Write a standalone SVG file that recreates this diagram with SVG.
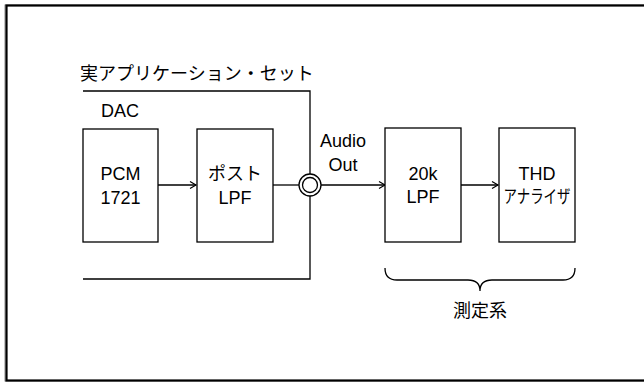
<svg xmlns="http://www.w3.org/2000/svg" width="644" height="383" viewBox="0 0 644 383">
<defs>
<style>
.t{font-family:"Liberation Sans","Noto Sans CJK JP",Arial,sans-serif;font-size:18px;fill:#000}
.c{text-anchor:middle}
.b{fill:#fff;stroke:#000;stroke-width:1.3}
.l{fill:none;stroke:#000;stroke-width:1.3}
</style>
<marker id="ah" markerWidth="10" markerHeight="10" refX="8" refY="5" orient="auto" markerUnits="userSpaceOnUse">
<path d="M2,1.5 L8,5 L2,8.5" fill="none" stroke="#000" stroke-width="1.2"/>
</marker>
</defs>
<rect x="0" y="0" width="644" height="383" fill="#fff"/>
<rect x="5" y="5" width="660" height="376" fill="none" stroke="#888" stroke-width="1"/>
<rect x="6.5" y="5.5" width="660" height="375" fill="none" stroke="#000" stroke-width="2.2"/>
<g id="set">
<text class="t" x="80" y="80">実アプリケーション・セット</text>
<path class="l" d="M83,91 H310 V279 H83"/>
<text class="t" x="101" y="117">DAC</text>
</g>
<g id="connectors">
<line class="l" x1="158" y1="185" x2="196" y2="185" marker-end="url(#ah)"/>
<line class="l" x1="273" y1="185" x2="300" y2="185"/>
<line class="l" x1="321" y1="185" x2="385" y2="185" marker-end="url(#ah)"/>
<line class="l" x1="461" y1="185" x2="498" y2="185" marker-end="url(#ah)"/>
<path class="l" d="M385,268 Q385,280 397,280 H468 Q480,280 480,291 Q480,280 492,280 H563 Q575,280 575,268"/>
</g>
<g id="pcm">
<rect class="b" x="83" y="129" width="75" height="113"/>
<text class="t c" x="120.5" y="180">PCM</text>
<text class="t c" x="120.5" y="204">1721</text>
</g>
<g id="postlpf">
<rect class="b" x="197" y="129" width="76" height="113"/>
<text class="t c" x="235" y="180">ポスト</text>
<text class="t c" x="235" y="204">LPF</text>
</g>
<g id="jack">
<circle class="b" cx="310" cy="185" r="11"/>
<circle class="b" cx="310" cy="185" r="7.5"/>
<text class="t c" x="343" y="147">Audio</text>
<text class="t c" x="343" y="171">Out</text>
</g>
<g id="lpf20k">
<rect class="b" x="385" y="128" width="76" height="114"/>
<text class="t c" x="423" y="180">20k</text>
<text class="t c" x="423" y="203">LPF</text>
</g>
<g id="thd">
<rect class="b" x="499" y="128" width="76" height="114"/>
<text class="t c" x="537" y="180">THD</text>
<text class="t" x="503.5" y="203" textLength="67" lengthAdjust="spacingAndGlyphs">アナライザ</text>
</g>
<g id="measure">
<text class="t c" x="480" y="317">測定系</text>
</g>
</svg>
